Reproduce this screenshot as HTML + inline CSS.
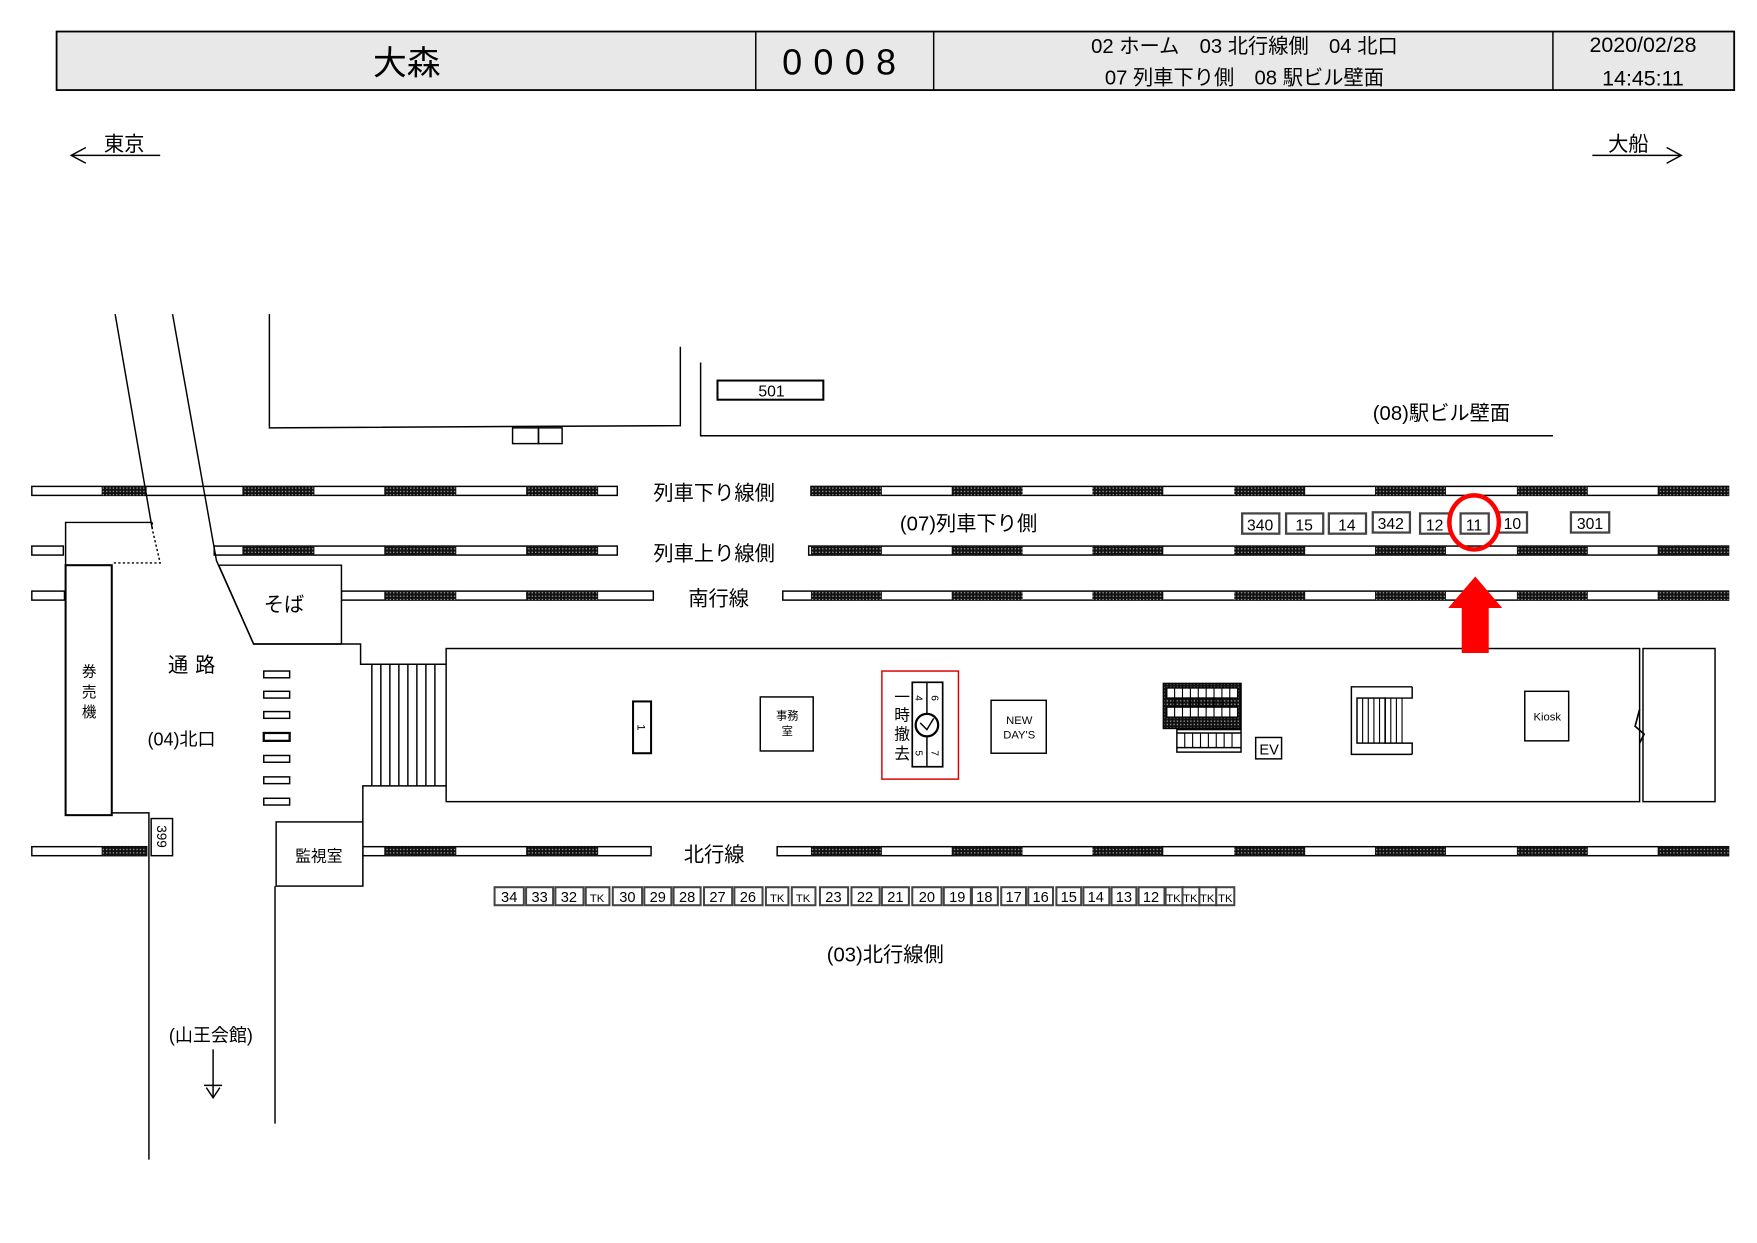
<!DOCTYPE html>
<html><head><meta charset="utf-8"><style>
html,body{margin:0;padding:0;background:#fff;width:1757px;height:1243px;overflow:hidden}
svg{display:block}
text{font-family:"Liberation Sans","Noto Sans CJK JP",sans-serif;fill:#000}
</style></head><body>
<svg width="1757" height="1243" viewBox="0 0 1560 1104" xmlns="http://www.w3.org/2000/svg">
<defs>
<pattern id="d" width="3" height="3" patternUnits="userSpaceOnUse"><rect width="3" height="3" fill="#111"/><rect x="1" y="1" width="1" height="1" fill="#ccc"/></pattern>
</defs>
<g stroke="#000" fill="none" stroke-width="1.3">
<rect x="50" y="28" width="1490" height="52" fill="#e8e8e8" stroke-width="1.6"/>
<line x1="671" y1="28" x2="671" y2="80"/><line x1="829" y1="28" x2="829" y2="80"/><line x1="1379" y1="28" x2="1379" y2="80"/>
<line x1="63" y1="138" x2="142" y2="138"/><polyline points="76,131 63,138 76,145"/>
<line x1="1414" y1="138" x2="1493" y2="138"/><polyline points="1480,131 1493,138 1480,145"/>
</g>
<text x="361" y="66" font-size="30" text-anchor="middle">大森</text>
<text x="750" y="66" font-size="32" text-anchor="middle" letter-spacing="10">0008</text>
<text x="1105" y="47" font-size="18" text-anchor="middle">02 ホーム　03 北行線側　04 北口</text>
<text x="1105" y="75" font-size="18" text-anchor="middle">07 列車下り側　08 駅ビル壁面</text>
<text x="1459" y="46" font-size="19" text-anchor="middle">2020/02/28</text>
<text x="1459" y="76" font-size="19" text-anchor="middle">14:45:11</text>
<text x="110" y="134" font-size="18" text-anchor="middle">東京</text>
<text x="1446" y="134" font-size="18" text-anchor="middle">大船</text>

<g stroke="#000" stroke-width="1.3" fill="#fff">
<rect x="28" y="432" width="520" height="8"/><rect x="720" y="432" width="815" height="8"/>
<rect x="28" y="485" width="28" height="8"/><rect x="190" y="485" width="358" height="8"/><rect x="718" y="485" width="817" height="8"/>
<rect x="28" y="525" width="29" height="8"/><rect x="303" y="525" width="277" height="8"/><rect x="695" y="525" width="840" height="8"/>
<rect x="28" y="752" width="102" height="8"/><rect x="322" y="752" width="256" height="8"/><rect x="690" y="752" width="845" height="8"/>
</g>
<g fill="url(#d)">
<rect x="90" y="432" width="40" height="8"/><rect x="215" y="432" width="64" height="8"/><rect x="341" y="432" width="64" height="8"/><rect x="467" y="432" width="64" height="8"/>
<rect x="720" y="432" width="63" height="8"/><rect x="845" y="432" width="63" height="8"/><rect x="970" y="432" width="63" height="8"/><rect x="1096" y="432" width="63" height="8"/><rect x="1221" y="432" width="63" height="8"/><rect x="1347" y="432" width="63" height="8"/><rect x="1472" y="432" width="63" height="8"/>
<rect x="215" y="485" width="64" height="8"/><rect x="341" y="485" width="64" height="8"/><rect x="467" y="485" width="64" height="8"/>
<rect x="720" y="485" width="63" height="8"/><rect x="845" y="485" width="63" height="8"/><rect x="970" y="485" width="63" height="8"/><rect x="1096" y="485" width="63" height="8"/><rect x="1221" y="485" width="63" height="8"/><rect x="1347" y="485" width="63" height="8"/><rect x="1472" y="485" width="63" height="8"/>
<rect x="341" y="525" width="64" height="8"/><rect x="467" y="525" width="64" height="8"/>
<rect x="720" y="525" width="63" height="8"/><rect x="845" y="525" width="63" height="8"/><rect x="970" y="525" width="63" height="8"/><rect x="1096" y="525" width="63" height="8"/><rect x="1221" y="525" width="63" height="8"/><rect x="1347" y="525" width="63" height="8"/><rect x="1472" y="525" width="63" height="8"/>
<rect x="90" y="752" width="40" height="8"/><rect x="341" y="752" width="64" height="8"/><rect x="467" y="752" width="64" height="8"/>
<rect x="720" y="752" width="63" height="8"/><rect x="845" y="752" width="63" height="8"/><rect x="970" y="752" width="63" height="8"/><rect x="1096" y="752" width="63" height="8"/><rect x="1221" y="752" width="63" height="8"/><rect x="1347" y="752" width="63" height="8"/><rect x="1472" y="752" width="63" height="8"/>
</g>

<g stroke="#000" fill="none" stroke-width="1.3">
<line x1="102" y1="279" x2="135" y2="470"/>
<polygon points="194,502 303,502 303,572 225,572" fill="#fff"/>
<polyline points="153,279 192,498 225,572 320,572 320,590 396,590"/>
<polyline points="135,464 58,464 58,502 99,502"/>
<polyline points="135,464 135,470 142,500 99,500" stroke-dasharray="2,2"/>
<rect x="58" y="502" width="41" height="222" fill="#fff" stroke-width="1.8"/>
<polyline points="99,722 132,722 132,1030"/>
<rect x="134" y="727" width="19" height="33" fill="#fff"/>
<polyline points="396,698 322,698 322,787"/>
<rect x="245" y="730" width="77" height="57" fill="#fff"/>
<line x1="244" y1="787" x2="244" y2="998"/>
<rect x="234" y="596" width="23" height="6"/><rect x="234" y="614" width="23" height="6"/><rect x="234" y="632" width="23" height="6"/><rect x="234" y="651" width="23" height="7" stroke-width="2"/><rect x="234" y="671" width="23" height="6"/><rect x="234" y="690" width="23" height="6"/><rect x="234" y="709" width="23" height="6"/>
<line x1="330" y1="590" x2="330" y2="698"/><line x1="338" y1="590" x2="338" y2="698"/><line x1="346" y1="590" x2="346" y2="698"/><line x1="354" y1="590" x2="354" y2="698"/><line x1="362" y1="590" x2="362" y2="698"/><line x1="370" y1="590" x2="370" y2="698"/><line x1="378" y1="590" x2="378" y2="698"/><line x1="386" y1="590" x2="386" y2="698"/>
<polyline points="239,279 239,380 604,378 604,308"/>
<rect x="455" y="380" width="23" height="14"/><rect x="478" y="380" width="21" height="14"/>
<polyline points="622,322 622,387 1379,387"/>
<rect x="637" y="338" width="94" height="17" stroke-width="1.8"/>
<rect x="396" y="576" width="1060" height="136" fill="#fff"/>
<rect x="1459" y="576" width="64" height="136" fill="#fff"/>
<polyline points="1456,630 1452,645 1460,652 1456,660" stroke-width="1.5"/>
<rect x="562" y="623" width="16" height="46" stroke-width="1.8"/>
<rect x="675" y="619" width="47" height="48"/>
<rect x="783" y="596" width="68" height="96" stroke="#d00"/>
<rect x="810" y="606" width="27" height="75" stroke-width="1.5"/>
<line x1="823" y1="606" x2="823" y2="681"/>
<circle cx="823" cy="644" r="10" fill="#fff" stroke-width="2"/>
<polyline points="817,642 823,648 829,638"/>
<rect x="880" y="622" width="49" height="47"/>
<rect x="1033" y="607" width="69" height="40" fill="url(#d)"/>
<rect x="1036" y="611" width="63" height="9" fill="#fff"/><rect x="1036" y="628" width="63" height="9" fill="#fff"/>
<rect x="1045" y="648" width="57" height="20"/>
<line x1="1045" y1="651" x2="1102" y2="651"/><line x1="1045" y1="664" x2="1102" y2="664"/>
<g stroke-width="1"><line x1="1052" y1="651" x2="1052" y2="664"/><line x1="1059" y1="651" x2="1059" y2="664"/><line x1="1066" y1="651" x2="1066" y2="664"/><line x1="1073" y1="651" x2="1073" y2="664"/><line x1="1080" y1="651" x2="1080" y2="664"/><line x1="1087" y1="651" x2="1087" y2="664"/><line x1="1094" y1="651" x2="1094" y2="664"/>
<line x1="1043" y1="611" x2="1043" y2="637"/><line x1="1050" y1="611" x2="1050" y2="637"/><line x1="1057" y1="611" x2="1057" y2="637"/><line x1="1064" y1="611" x2="1064" y2="637"/><line x1="1071" y1="611" x2="1071" y2="637"/><line x1="1078" y1="611" x2="1078" y2="637"/><line x1="1085" y1="611" x2="1085" y2="637"/><line x1="1092" y1="611" x2="1092" y2="637"/></g>
<rect x="1115" y="655" width="23" height="19"/>
<polyline points="1254,610 1200,610 1200,670 1254,670"/>
<polyline points="1254,610 1254,620 1230,620 1230,660 1254,660 1254,670"/>
<rect x="1205" y="620" width="25" height="40"/>
<g stroke-width="1"><line x1="1210" y1="620" x2="1210" y2="660"/><line x1="1215" y1="620" x2="1215" y2="660"/><line x1="1220" y1="620" x2="1220" y2="660"/><line x1="1225" y1="620" x2="1225" y2="660"/><line x1="1235" y1="620" x2="1235" y2="660"/><line x1="1240" y1="620" x2="1240" y2="660"/><line x1="1245" y1="620" x2="1245" y2="660"/></g>
<rect x="1354" y="614" width="39" height="44"/>
<line x1="189" y1="932" x2="189" y2="975"/><line x1="181" y1="964" x2="197" y2="964"/><polyline points="183,966 189,975 195,966"/>
</g>
<g stroke="#444" stroke-width="2" fill="#fff">
<rect x="1103" y="456" width="33" height="18"/><rect x="1142" y="456" width="33" height="18"/><rect x="1180" y="456" width="33" height="18"/><rect x="1219" y="455" width="33" height="18"/><rect x="1261" y="456" width="27" height="18"/><rect x="1297" y="456" width="25" height="18"/><rect x="1331" y="455" width="25" height="18"/><rect x="1395" y="455" width="34" height="18"/>
</g>
<g font-size="14" text-anchor="middle">
<text x="1119" y="471">340</text><text x="1158" y="471">15</text><text x="1196" y="471">14</text><text x="1235" y="470">342</text><text x="1274" y="471">12</text><text x="1309" y="471">11</text><text x="1343" y="470">10</text><text x="1412" y="470">301</text>
</g>
<ellipse cx="1309" cy="464" rx="22" ry="24" fill="none" stroke="#f00" stroke-width="4"/>
<polygon points="1298,580 1322,580 1322,540 1334,540 1310,512 1286,540 1298,540" fill="#f00"/>
<g stroke="#444" stroke-width="1.8" fill="#fff">
<rect x="439" y="788" width="26" height="16"/><rect x="467" y="788" width="24" height="16"/><rect x="493" y="788" width="25" height="16"/><rect x="520" y="788" width="21" height="16"/><rect x="544" y="788" width="26" height="16"/><rect x="572" y="788" width="24" height="16"/><rect x="598" y="788" width="24" height="16"/><rect x="625" y="788" width="25" height="16"/><rect x="652" y="788" width="25" height="16"/><rect x="680" y="788" width="20" height="16"/><rect x="703" y="788" width="21" height="16"/><rect x="728" y="788" width="25" height="16"/><rect x="756" y="788" width="25" height="16"/><rect x="783" y="788" width="24" height="16"/><rect x="810" y="788" width="26" height="16"/><rect x="838" y="788" width="24" height="16"/><rect x="863" y="788" width="23" height="16"/><rect x="889" y="788" width="22" height="16"/><rect x="913" y="788" width="22" height="16"/><rect x="938" y="788" width="22" height="16"/><rect x="962" y="788" width="23" height="16"/><rect x="987" y="788" width="22" height="16"/><rect x="1011" y="788" width="23" height="16"/><rect x="1035" y="788" width="15" height="16"/><rect x="1050" y="788" width="15" height="16"/><rect x="1065" y="788" width="15" height="16"/><rect x="1080" y="788" width="16" height="16"/>
</g>
<g font-size="13" text-anchor="middle">
<text x="452" y="801">34</text><text x="479" y="801">33</text><text x="505" y="801">32</text><text x="530" y="801" font-size="10">TK</text><text x="557" y="801">30</text><text x="584" y="801">29</text><text x="610" y="801">28</text><text x="637" y="801">27</text><text x="664" y="801">26</text><text x="690" y="801" font-size="10">TK</text><text x="713" y="801" font-size="10">TK</text><text x="740" y="801">23</text><text x="768" y="801">22</text><text x="795" y="801">21</text><text x="823" y="801">20</text><text x="850" y="801">19</text><text x="874" y="801">18</text><text x="900" y="801">17</text><text x="924" y="801">16</text><text x="949" y="801">15</text><text x="973" y="801">14</text><text x="998" y="801">13</text><text x="1022" y="801">12</text><text x="1042" y="801" font-size="10">TK</text><text x="1057" y="801" font-size="10">TK</text><text x="1072" y="801" font-size="10">TK</text><text x="1088" y="801" font-size="10">TK</text>
</g>
<g font-size="18">
<text x="1280" y="373" text-anchor="middle">(08)駅ビル壁面</text>
<text x="685" y="352" font-size="14" text-anchor="middle">501</text>
<text x="634" y="444" text-anchor="middle">列車下り線側</text>
<text x="634" y="498" text-anchor="middle">列車上り線側</text>
<text x="638" y="538" text-anchor="middle">南行線</text>
<text x="634" y="765" text-anchor="middle">北行線</text>
<text x="860" y="471" text-anchor="middle">(07)列車下り側</text>
<text x="786" y="854" text-anchor="middle">(03)北行線側</text>
<text x="252" y="543" text-anchor="middle">そば</text>
<text x="173" y="597" text-anchor="middle" letter-spacing="6">通路</text>
<text x="161" y="662" font-size="16" text-anchor="middle">(04)北口</text>
<text x="187" y="925" font-size="16" text-anchor="middle">(山王会館)</text>
<text x="283" y="765" font-size="14" text-anchor="middle">監視室</text>
</g>
<g font-size="13" text-anchor="middle">
<text x="79" y="601">券</text><text x="79" y="619">売</text><text x="79" y="637">機</text>
</g>
<text x="0" y="0" font-size="12" transform="translate(139,743) rotate(90)" text-anchor="middle">399</text>
<text x="0" y="0" font-size="10" transform="translate(566,646) rotate(90)" text-anchor="middle">1</text>
<text x="699" y="639" font-size="10" text-anchor="middle">事務</text>
<text x="699" y="653" font-size="10" text-anchor="middle">室</text>
<g font-size="14" text-anchor="middle"><text x="801" y="624" fill="#d00">一</text><text x="801" y="640" fill="#d00">時</text><text x="801" y="657" fill="#d00">撤</text><text x="801" y="674" fill="#d00">去</text></g>
<g font-size="9" text-anchor="middle"><text x="0" y="0" transform="translate(813,620) rotate(90)">4</text><text x="0" y="0" transform="translate(827,620) rotate(90)">6</text><text x="0" y="0" transform="translate(813,669) rotate(90)">5</text><text x="0" y="0" transform="translate(827,669) rotate(90)">7</text></g>
<text x="905" y="643" font-size="10" text-anchor="middle">NEW</text>
<text x="905" y="656" font-size="10" text-anchor="middle">DAY'S</text>
<text x="1127" y="670" font-size="13" text-anchor="middle">EV</text>
<text x="1374" y="640" font-size="10" text-anchor="middle">Kiosk</text>
</svg>
</body></html>
